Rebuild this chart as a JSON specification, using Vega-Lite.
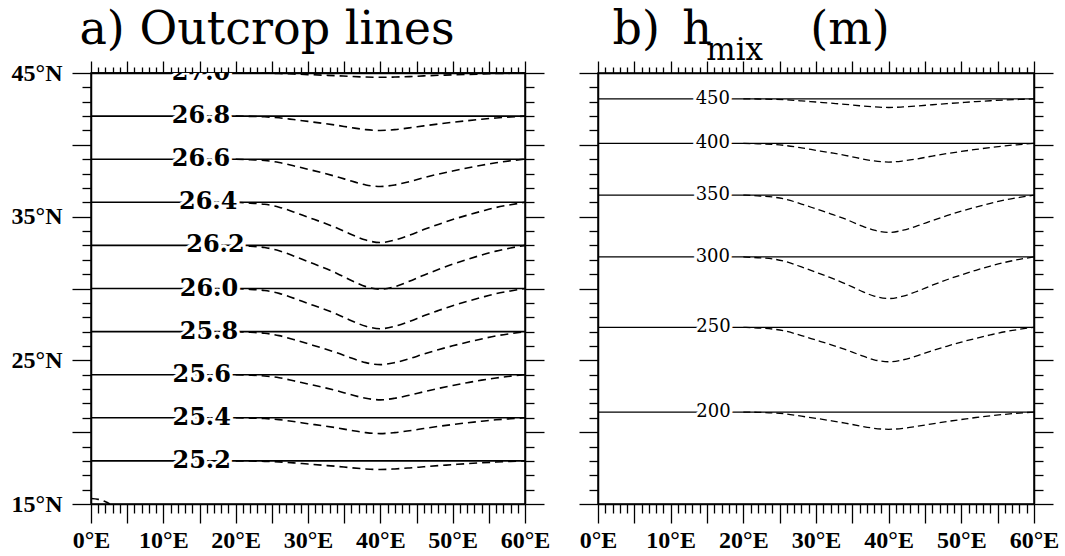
{
"$schema": "https://vega.github.io/schema/vega-lite/v6.json",
"background": "white",
"padding": {"left": 10, "top": 6, "right": 5, "bottom": 2},
"config": {
  "view": {"stroke": "black", "strokeWidth": 1.5},
  "axis": {"domainColor": "black", "domainWidth": 1.5, "tickColor": "black", "tickWidth": 1.3, "labelColor": "black", "labelFont": "Liberation Serif", "labelFontSize": 24, "labelFontWeight": "bold", "grid": false, "labelFlush": false, "labelOverlap": false, "labelBound": false, "zindex": 1}
},
"datasets": {
  "sa": [
    {"c":"27.0","x":0,"y":45},{"c":"27.0","x":60,"y":45},
    {"c":"26.8","x":0,"y":42},{"c":"26.8","x":60,"y":42},
    {"c":"26.6","x":0,"y":39},{"c":"26.6","x":60,"y":39},
    {"c":"26.4","x":0,"y":36},{"c":"26.4","x":60,"y":36},
    {"c":"26.2","x":0,"y":33},{"c":"26.2","x":60,"y":33},
    {"c":"26.0","x":0,"y":30},{"c":"26.0","x":60,"y":30},
    {"c":"25.8","x":0,"y":27},{"c":"25.8","x":60,"y":27},
    {"c":"25.6","x":0,"y":24},{"c":"25.6","x":60,"y":24},
    {"c":"25.4","x":0,"y":21},{"c":"25.4","x":60,"y":21},
    {"c":"25.2","x":0,"y":18},{"c":"25.2","x":60,"y":18}
  ],
  "da": [
    {"c":"27.0","x":20,"y":45},{"c":"27.0","x":22,"y":44.99},{"c":"27.0","x":24,"y":44.99},{"c":"27.0","x":26,"y":44.96},{"c":"27.0","x":28,"y":44.93},{"c":"27.0","x":30,"y":44.89},{"c":"27.0","x":32,"y":44.85},{"c":"27.0","x":34,"y":44.81},{"c":"27.0","x":36,"y":44.76},{"c":"27.0","x":38,"y":44.72},{"c":"27.0","x":40,"y":44.7},{"c":"27.0","x":42,"y":44.72},{"c":"27.0","x":44,"y":44.75},{"c":"27.0","x":46,"y":44.8},{"c":"27.0","x":48,"y":44.84},{"c":"27.0","x":50,"y":44.87},{"c":"27.0","x":52,"y":44.9},{"c":"27.0","x":54,"y":44.93},{"c":"27.0","x":56,"y":44.96},{"c":"27.0","x":58,"y":44.98},{"c":"27.0","x":60,"y":45},
    {"c":"26.8","x":20,"y":42},{"c":"26.8","x":22,"y":41.98},{"c":"26.8","x":24,"y":41.95},{"c":"26.8","x":26,"y":41.88},{"c":"26.8","x":28,"y":41.76},{"c":"26.8","x":30,"y":41.63},{"c":"26.8","x":32,"y":41.5},{"c":"26.8","x":34,"y":41.36},{"c":"26.8","x":36,"y":41.2},{"c":"26.8","x":38,"y":41.06},{"c":"26.8","x":40,"y":41.0},{"c":"26.8","x":42,"y":41.06},{"c":"26.8","x":44,"y":41.18},{"c":"26.8","x":46,"y":41.32},{"c":"26.8","x":48,"y":41.45},{"c":"26.8","x":50,"y":41.57},{"c":"26.8","x":52,"y":41.68},{"c":"26.8","x":54,"y":41.78},{"c":"26.8","x":56,"y":41.87},{"c":"26.8","x":58,"y":41.94},{"c":"26.8","x":60,"y":42},
    {"c":"26.6","x":20,"y":39},{"c":"26.6","x":22,"y":38.96},{"c":"26.6","x":24,"y":38.91},{"c":"26.6","x":26,"y":38.77},{"c":"26.6","x":28,"y":38.54},{"c":"26.6","x":30,"y":38.3},{"c":"26.6","x":32,"y":38.05},{"c":"26.6","x":34,"y":37.78},{"c":"26.6","x":36,"y":37.48},{"c":"26.6","x":38,"y":37.21},{"c":"26.6","x":40,"y":37.1},{"c":"26.6","x":42,"y":37.21},{"c":"26.6","x":44,"y":37.44},{"c":"26.6","x":46,"y":37.71},{"c":"26.6","x":48,"y":37.96},{"c":"26.6","x":50,"y":38.18},{"c":"26.6","x":52,"y":38.39},{"c":"26.6","x":54,"y":38.58},{"c":"26.6","x":56,"y":38.75},{"c":"26.6","x":58,"y":38.89},{"c":"26.6","x":60,"y":39},
    {"c":"26.4","x":20,"y":36},{"c":"26.4","x":22,"y":35.94},{"c":"26.4","x":24,"y":35.86},{"c":"26.4","x":26,"y":35.66},{"c":"26.4","x":28,"y":35.33},{"c":"26.4","x":30,"y":34.96},{"c":"26.4","x":32,"y":34.6},{"c":"26.4","x":34,"y":34.21},{"c":"26.4","x":36,"y":33.76},{"c":"26.4","x":38,"y":33.37},{"c":"26.4","x":40,"y":33.2},{"c":"26.4","x":42,"y":33.37},{"c":"26.4","x":44,"y":33.7},{"c":"26.4","x":46,"y":34.1},{"c":"26.4","x":48,"y":34.46},{"c":"26.4","x":50,"y":34.8},{"c":"26.4","x":52,"y":35.1},{"c":"26.4","x":54,"y":35.38},{"c":"26.4","x":56,"y":35.64},{"c":"26.4","x":58,"y":35.83},{"c":"26.4","x":60,"y":36},
    {"c":"26.2","x":20,"y":33},{"c":"26.2","x":22,"y":32.94},{"c":"26.2","x":24,"y":32.85},{"c":"26.2","x":26,"y":32.63},{"c":"26.2","x":28,"y":32.27},{"c":"26.2","x":30,"y":31.87},{"c":"26.2","x":32,"y":31.48},{"c":"26.2","x":34,"y":31.05},{"c":"26.2","x":36,"y":30.56},{"c":"26.2","x":38,"y":30.13},{"c":"26.2","x":40,"y":29.95},{"c":"26.2","x":42,"y":30.13},{"c":"26.2","x":44,"y":30.5},{"c":"26.2","x":46,"y":30.93},{"c":"26.2","x":48,"y":31.32},{"c":"26.2","x":50,"y":31.69},{"c":"26.2","x":52,"y":32.02},{"c":"26.2","x":54,"y":32.33},{"c":"26.2","x":56,"y":32.6},{"c":"26.2","x":58,"y":32.82},{"c":"26.2","x":60,"y":33},
    {"c":"26.0","x":20,"y":30},{"c":"26.0","x":22,"y":29.94},{"c":"26.0","x":24,"y":29.86},{"c":"26.0","x":26,"y":29.66},{"c":"26.0","x":28,"y":29.33},{"c":"26.0","x":30,"y":28.96},{"c":"26.0","x":32,"y":28.6},{"c":"26.0","x":34,"y":28.21},{"c":"26.0","x":36,"y":27.76},{"c":"26.0","x":38,"y":27.37},{"c":"26.0","x":40,"y":27.2},{"c":"26.0","x":42,"y":27.37},{"c":"26.0","x":44,"y":27.7},{"c":"26.0","x":46,"y":28.1},{"c":"26.0","x":48,"y":28.46},{"c":"26.0","x":50,"y":28.8},{"c":"26.0","x":52,"y":29.1},{"c":"26.0","x":54,"y":29.38},{"c":"26.0","x":56,"y":29.64},{"c":"26.0","x":58,"y":29.83},{"c":"26.0","x":60,"y":30},
    {"c":"25.8","x":20,"y":27},{"c":"25.8","x":22,"y":26.95},{"c":"25.8","x":24,"y":26.89},{"c":"25.8","x":26,"y":26.72},{"c":"25.8","x":28,"y":26.45},{"c":"25.8","x":30,"y":26.15},{"c":"25.8","x":32,"y":25.85},{"c":"25.8","x":34,"y":25.53},{"c":"25.8","x":36,"y":25.16},{"c":"25.8","x":38,"y":24.84},{"c":"25.8","x":40,"y":24.7},{"c":"25.8","x":42,"y":24.84},{"c":"25.8","x":44,"y":25.11},{"c":"25.8","x":46,"y":25.44},{"c":"25.8","x":48,"y":25.74},{"c":"25.8","x":50,"y":26.01},{"c":"25.8","x":52,"y":26.26},{"c":"25.8","x":54,"y":26.49},{"c":"25.8","x":56,"y":26.7},{"c":"25.8","x":58,"y":26.86},{"c":"25.8","x":60,"y":27},
    {"c":"25.6","x":20,"y":24},{"c":"25.6","x":22,"y":23.97},{"c":"25.6","x":24,"y":23.91},{"c":"25.6","x":26,"y":23.79},{"c":"25.6","x":28,"y":23.58},{"c":"25.6","x":30,"y":23.35},{"c":"25.6","x":32,"y":23.13},{"c":"25.6","x":34,"y":22.88},{"c":"25.6","x":36,"y":22.6},{"c":"25.6","x":38,"y":22.36},{"c":"25.6","x":40,"y":22.25},{"c":"25.6","x":42,"y":22.36},{"c":"25.6","x":44,"y":22.57},{"c":"25.6","x":46,"y":22.81},{"c":"25.6","x":48,"y":23.04},{"c":"25.6","x":50,"y":23.25},{"c":"25.6","x":52,"y":23.44},{"c":"25.6","x":54,"y":23.62},{"c":"25.6","x":56,"y":23.77},{"c":"25.6","x":58,"y":23.9},{"c":"25.6","x":60,"y":24},
    {"c":"25.4","x":20,"y":21},{"c":"25.4","x":22,"y":20.98},{"c":"25.4","x":24,"y":20.95},{"c":"25.4","x":26,"y":20.87},{"c":"25.4","x":28,"y":20.74},{"c":"25.4","x":30,"y":20.59},{"c":"25.4","x":32,"y":20.45},{"c":"25.4","x":34,"y":20.3},{"c":"25.4","x":36,"y":20.12},{"c":"25.4","x":38,"y":19.97},{"c":"25.4","x":40,"y":19.9},{"c":"25.4","x":42,"y":19.97},{"c":"25.4","x":44,"y":20.1},{"c":"25.4","x":46,"y":20.25},{"c":"25.4","x":48,"y":20.4},{"c":"25.4","x":50,"y":20.53},{"c":"25.4","x":52,"y":20.65},{"c":"25.4","x":54,"y":20.76},{"c":"25.4","x":56,"y":20.86},{"c":"25.4","x":58,"y":20.93},{"c":"25.4","x":60,"y":21},
    {"c":"25.2","x":20,"y":18},{"c":"25.2","x":22,"y":17.99},{"c":"25.2","x":24,"y":17.97},{"c":"25.2","x":26,"y":17.93},{"c":"25.2","x":28,"y":17.86},{"c":"25.2","x":30,"y":17.78},{"c":"25.2","x":32,"y":17.7},{"c":"25.2","x":34,"y":17.62},{"c":"25.2","x":36,"y":17.52},{"c":"25.2","x":38,"y":17.44},{"c":"25.2","x":40,"y":17.4},{"c":"25.2","x":42,"y":17.44},{"c":"25.2","x":44,"y":17.51},{"c":"25.2","x":46,"y":17.59},{"c":"25.2","x":48,"y":17.67},{"c":"25.2","x":50,"y":17.74},{"c":"25.2","x":52,"y":17.81},{"c":"25.2","x":54,"y":17.87},{"c":"25.2","x":56,"y":17.92},{"c":"25.2","x":58,"y":17.96},{"c":"25.2","x":60,"y":18},
    {"c":"25.0","x":0,"y":15.38},{"c":"25.0","x":1,"y":15.32},{"c":"25.0","x":2,"y":15.15},{"c":"25.0","x":2.6,"y":15.0}
  ],
  "la": [
    {"t":"27.0","x":15.2,"y":45},{"t":"26.8","x":15.2,"y":42},{"t":"26.6","x":15.2,"y":39},{"t":"26.4","x":16.2,"y":36},{"t":"26.2","x":17.2,"y":33},
    {"t":"26.0","x":16.3,"y":30},{"t":"25.8","x":16.3,"y":27},{"t":"25.6","x":15.3,"y":24},{"t":"25.4","x":15.3,"y":21},{"t":"25.2","x":15.3,"y":18}
  ],
  "sb": [
    {"c":"450","x":0,"y":43.2},{"c":"450","x":60,"y":43.2},
    {"c":"400","x":0,"y":40.1},{"c":"400","x":60,"y":40.1},
    {"c":"350","x":0,"y":36.5},{"c":"350","x":60,"y":36.5},
    {"c":"300","x":0,"y":32.2},{"c":"300","x":60,"y":32.2},
    {"c":"250","x":0,"y":27.3},{"c":"250","x":60,"y":27.3},
    {"c":"200","x":0,"y":21.4},{"c":"200","x":60,"y":21.4}
  ],
  "db": [
    {"c":"450","x":20,"y":43.2},{"c":"450","x":22,"y":43.19},{"c":"450","x":24,"y":43.17},{"c":"450","x":26,"y":43.13},{"c":"450","x":28,"y":43.06},{"c":"450","x":30,"y":42.98},{"c":"450","x":32,"y":42.9},{"c":"450","x":34,"y":42.82},{"c":"450","x":36,"y":42.72},{"c":"450","x":38,"y":42.64},{"c":"450","x":40,"y":42.6},{"c":"450","x":42,"y":42.64},{"c":"450","x":44,"y":42.71},{"c":"450","x":46,"y":42.79},{"c":"450","x":48,"y":42.87},{"c":"450","x":50,"y":42.94},{"c":"450","x":52,"y":43.01},{"c":"450","x":54,"y":43.07},{"c":"450","x":56,"y":43.12},{"c":"450","x":58,"y":43.16},{"c":"450","x":60,"y":43.2},
    {"c":"400","x":20,"y":40.1},{"c":"400","x":22,"y":40.07},{"c":"400","x":24,"y":40.04},{"c":"400","x":26,"y":39.94},{"c":"400","x":28,"y":39.79},{"c":"400","x":30,"y":39.62},{"c":"400","x":32,"y":39.45},{"c":"400","x":34,"y":39.27},{"c":"400","x":36,"y":39.06},{"c":"400","x":38,"y":38.88},{"c":"400","x":40,"y":38.8},{"c":"400","x":42,"y":38.88},{"c":"400","x":44,"y":39.03},{"c":"400","x":46,"y":39.22},{"c":"400","x":48,"y":39.39},{"c":"400","x":50,"y":39.54},{"c":"400","x":52,"y":39.68},{"c":"400","x":54,"y":39.81},{"c":"400","x":56,"y":39.93},{"c":"400","x":58,"y":40.02},{"c":"400","x":60,"y":40.1},
    {"c":"350","x":20,"y":36.5},{"c":"350","x":22,"y":36.45},{"c":"350","x":24,"y":36.37},{"c":"350","x":26,"y":36.19},{"c":"350","x":28,"y":35.88},{"c":"350","x":30,"y":35.54},{"c":"350","x":32,"y":35.2},{"c":"350","x":34,"y":34.84},{"c":"350","x":36,"y":34.42},{"c":"350","x":38,"y":34.06},{"c":"350","x":40,"y":33.9},{"c":"350","x":42,"y":34.06},{"c":"350","x":44,"y":34.37},{"c":"350","x":46,"y":34.73},{"c":"350","x":48,"y":35.07},{"c":"350","x":50,"y":35.38},{"c":"350","x":52,"y":35.67},{"c":"350","x":54,"y":35.93},{"c":"350","x":56,"y":36.16},{"c":"350","x":58,"y":36.34},{"c":"350","x":60,"y":36.5},
    {"c":"300","x":20,"y":32.2},{"c":"300","x":22,"y":32.14},{"c":"300","x":24,"y":32.06},{"c":"300","x":26,"y":31.85},{"c":"300","x":28,"y":31.5},{"c":"300","x":30,"y":31.13},{"c":"300","x":32,"y":30.75},{"c":"300","x":34,"y":30.34},{"c":"300","x":36,"y":29.88},{"c":"300","x":38,"y":29.47},{"c":"300","x":40,"y":29.3},{"c":"300","x":42,"y":29.47},{"c":"300","x":44,"y":29.82},{"c":"300","x":46,"y":30.23},{"c":"300","x":48,"y":30.61},{"c":"300","x":50,"y":30.95},{"c":"300","x":52,"y":31.27},{"c":"300","x":54,"y":31.56},{"c":"300","x":56,"y":31.82},{"c":"300","x":58,"y":32.03},{"c":"300","x":60,"y":32.2},
    {"c":"250","x":20,"y":27.3},{"c":"250","x":22,"y":27.25},{"c":"250","x":24,"y":27.18},{"c":"250","x":26,"y":27.01},{"c":"250","x":28,"y":26.72},{"c":"250","x":30,"y":26.41},{"c":"250","x":32,"y":26.1},{"c":"250","x":34,"y":25.76},{"c":"250","x":36,"y":25.38},{"c":"250","x":38,"y":25.04},{"c":"250","x":40,"y":24.9},{"c":"250","x":42,"y":25.04},{"c":"250","x":44,"y":25.33},{"c":"250","x":46,"y":25.67},{"c":"250","x":48,"y":25.98},{"c":"250","x":50,"y":26.27},{"c":"250","x":52,"y":26.53},{"c":"250","x":54,"y":26.77},{"c":"250","x":56,"y":26.99},{"c":"250","x":58,"y":27.16},{"c":"250","x":60,"y":27.3},
    {"c":"200","x":20,"y":21.4},{"c":"200","x":22,"y":21.38},{"c":"200","x":24,"y":21.34},{"c":"200","x":26,"y":21.26},{"c":"200","x":28,"y":21.11},{"c":"200","x":30,"y":20.96},{"c":"200","x":32,"y":20.8},{"c":"200","x":34,"y":20.63},{"c":"200","x":36,"y":20.44},{"c":"200","x":38,"y":20.27},{"c":"200","x":40,"y":20.2},{"c":"200","x":42,"y":20.27},{"c":"200","x":44,"y":20.42},{"c":"200","x":46,"y":20.58},{"c":"200","x":48,"y":20.74},{"c":"200","x":50,"y":20.88},{"c":"200","x":52,"y":21.02},{"c":"200","x":54,"y":21.14},{"c":"200","x":56,"y":21.24},{"c":"200","x":58,"y":21.33},{"c":"200","x":60,"y":21.4}
  ],
  "lb": [
    {"t":"450","x":15.8,"y":43.2},{"t":"400","x":15.8,"y":40.1},{"t":"350","x":15.8,"y":36.5},
    {"t":"300","x":15.8,"y":32.2},{"t":"250","x":15.9,"y":27.3},{"t":"200","x":15.9,"y":21.4}
  ]
},
"hconcat": [
  {
    "width": 434, "height": 431,
    "layer": [
      {"data": {"name": "sa"}, "mark": {"type": "line", "color": "black", "strokeWidth": 1.6},
       "encoding": {
         "x": {"field": "x", "type": "quantitative", "scale": {"domain": [0, 60], "nice": false, "zero": false},
               "axis": {"orient": "bottom", "title": null, "values": [0,1,2,3,4,5,6,7,8,9,10,11,12,13,14,15,16,17,18,19,20,21,22,23,24,25,26,27,28,29,30,31,32,33,34,35,36,37,38,39,40,41,42,43,44,45,46,47,48,49,50,51,52,53,54,55,56,57,58,59,60],
                        "labelExpr": "datum.value % 10 === 0 ? datum.value + '°E' : ''", "labelPadding": 5,
                        "tickSize": {"condition": {"test": "datum.value % 5 === 0", "value": 19}, "value": 9}}},
         "y": {"field": "y", "type": "quantitative", "scale": {"domain": [15, 45], "nice": false, "zero": false},
               "axis": {"orient": "left", "title": null, "values": [15,16,17,18,19,20,21,22,23,24,25,26,27,28,29,30,31,32,33,34,35,36,37,38,39,40,41,42,43,44,45],
                        "labelExpr": "datum.value % 10 === 5 ? datum.value + '°N' : ''", "labelPadding": 10,
                        "tickSize": {"condition": {"test": "datum.value % 5 === 0", "value": 19}, "value": 9}}},
         "detail": {"field": "c"}}},
      {"data": {"name": "da"}, "mark": {"type": "line", "color": "black", "strokeWidth": 1.6, "strokeDash": [8, 5], "interpolate": "monotone"},
       "encoding": {
         "x": {"field": "x", "type": "quantitative",
               "axis": {"orient": "top", "title": null, "labels": false, "values": [0,1,2,3,4,5,6,7,8,9,10,11,12,13,14,15,16,17,18,19,20,21,22,23,24,25,26,27,28,29,30,31,32,33,34,35,36,37,38,39,40,41,42,43,44,45,46,47,48,49,50,51,52,53,54,55,56,57,58,59,60],
                        "tickSize": {"condition": {"test": "datum.value % 5 === 0", "value": 12}, "value": 6}}},
         "y": {"field": "y", "type": "quantitative",
               "axis": {"orient": "right", "title": null, "labels": false, "values": [15,16,17,18,19,20,21,22,23,24,25,26,27,28,29,30,31,32,33,34,35,36,37,38,39,40,41,42,43,44,45],
                        "tickSize": {"condition": {"test": "datum.value % 5 === 0", "value": 19}, "value": 9}}},
         "detail": {"field": "c"}}},
      {"data": {"name": "la"}, "mark": {"type": "text", "clip": true, "font": "DejaVu Serif", "fontWeight": "bold", "fontSize": 24, "align": "center", "baseline": "middle", "fill": "white", "stroke": "white", "strokeWidth": 6},
       "encoding": {"x": {"field": "x", "type": "quantitative", "axis": null}, "y": {"field": "y", "type": "quantitative", "axis": null}, "text": {"field": "t"}}},
      {"data": {"name": "la"}, "mark": {"type": "text", "clip": true, "font": "DejaVu Serif", "fontWeight": "bold", "fontSize": 24, "align": "center", "baseline": "middle", "fill": "black"},
       "encoding": {"x": {"field": "x", "type": "quantitative", "axis": null}, "y": {"field": "y", "type": "quantitative", "axis": null}, "text": {"field": "t"}}},
      {"data": {"values": [{}]}, "mark": {"type": "text", "font": "DejaVu Serif", "fontSize": 46, "align": "left", "baseline": "alphabetic", "fill": "black"},
       "encoding": {"x": {"datum": -1.6, "type": "quantitative", "axis": null}, "y": {"datum": 47.0, "type": "quantitative", "axis": null}, "text": {"value": "a) Outcrop lines"}}}
    ],
    "resolve": {"axis": {"x": "independent", "y": "independent"}}
  },
  {
    "width": 436, "height": 431,
    "layer": [
      {"data": {"name": "sb"}, "mark": {"type": "line", "color": "black", "strokeWidth": 1.3},
       "encoding": {
         "x": {"field": "x", "type": "quantitative", "scale": {"domain": [0, 60], "nice": false, "zero": false},
               "axis": {"orient": "bottom", "title": null, "values": [0,1,2,3,4,5,6,7,8,9,10,11,12,13,14,15,16,17,18,19,20,21,22,23,24,25,26,27,28,29,30,31,32,33,34,35,36,37,38,39,40,41,42,43,44,45,46,47,48,49,50,51,52,53,54,55,56,57,58,59,60],
                        "labelExpr": "datum.value % 10 === 0 ? datum.value + '°E' : ''", "labelPadding": 5,
                        "tickSize": {"condition": {"test": "datum.value % 5 === 0", "value": 19}, "value": 9}}},
         "y": {"field": "y", "type": "quantitative", "scale": {"domain": [15, 45], "nice": false, "zero": false},
               "axis": {"orient": "left", "title": null, "labels": false, "values": [15,16,17,18,19,20,21,22,23,24,25,26,27,28,29,30,31,32,33,34,35,36,37,38,39,40,41,42,43,44,45],
                        "tickSize": {"condition": {"test": "datum.value % 5 === 0", "value": 19}, "value": 9}}},
         "detail": {"field": "c"}}},
      {"data": {"name": "db"}, "mark": {"type": "line", "color": "black", "strokeWidth": 1.3, "strokeDash": [7, 4], "interpolate": "monotone"},
       "encoding": {
         "x": {"field": "x", "type": "quantitative",
               "axis": {"orient": "top", "title": null, "labels": false, "values": [0,1,2,3,4,5,6,7,8,9,10,11,12,13,14,15,16,17,18,19,20,21,22,23,24,25,26,27,28,29,30,31,32,33,34,35,36,37,38,39,40,41,42,43,44,45,46,47,48,49,50,51,52,53,54,55,56,57,58,59,60],
                        "tickSize": {"condition": {"test": "datum.value % 5 === 0", "value": 12}, "value": 6}}},
         "y": {"field": "y", "type": "quantitative",
               "axis": {"orient": "right", "title": null, "labels": false, "values": [15,16,17,18,19,20,21,22,23,24,25,26,27,28,29,30,31,32,33,34,35,36,37,38,39,40,41,42,43,44,45],
                        "tickSize": {"condition": {"test": "datum.value % 5 === 0", "value": 19}, "value": 9}}},
         "detail": {"field": "c"}}},
      {"data": {"name": "lb"}, "mark": {"type": "text", "font": "DejaVu Serif", "fontSize": 18, "align": "center", "baseline": "middle", "fill": "white", "stroke": "white", "strokeWidth": 6},
       "encoding": {"x": {"field": "x", "type": "quantitative", "axis": null}, "y": {"field": "y", "type": "quantitative", "axis": null}, "text": {"field": "t"}}},
      {"data": {"name": "lb"}, "mark": {"type": "text", "font": "DejaVu Serif", "fontSize": 18, "align": "center", "baseline": "middle", "fill": "black"},
       "encoding": {"x": {"field": "x", "type": "quantitative", "axis": null}, "y": {"field": "y", "type": "quantitative", "axis": null}, "text": {"field": "t"}}},
      {"data": {"values": [{}]}, "mark": {"type": "text", "font": "DejaVu Serif", "fontSize": 46, "align": "left", "baseline": "alphabetic", "fill": "black"},
       "encoding": {"x": {"datum": 2.0, "type": "quantitative", "axis": null}, "y": {"datum": 47.0, "type": "quantitative", "axis": null}, "text": {"value": "b)"}}},
      {"data": {"values": [{}]}, "mark": {"type": "text", "font": "DejaVu Serif", "fontSize": 46, "align": "left", "baseline": "alphabetic", "fill": "black"},
       "encoding": {"x": {"datum": 11.6, "type": "quantitative", "axis": null}, "y": {"datum": 47.0, "type": "quantitative", "axis": null}, "text": {"value": "h"}}},
      {"data": {"values": [{}]}, "mark": {"type": "text", "font": "DejaVu Serif", "fontSize": 31, "align": "left", "baseline": "alphabetic", "fill": "black"},
       "encoding": {"x": {"datum": 14.9, "type": "quantitative", "axis": null}, "y": {"datum": 45.9, "type": "quantitative", "axis": null}, "text": {"value": "mix"}}},
      {"data": {"values": [{}]}, "mark": {"type": "text", "font": "DejaVu Serif", "fontSize": 46, "align": "left", "baseline": "alphabetic", "fill": "black"},
       "encoding": {"x": {"datum": 29.2, "type": "quantitative", "axis": null}, "y": {"datum": 47.0, "type": "quantitative", "axis": null}, "text": {"value": "(m)"}}}
    ],
    "resolve": {"axis": {"x": "independent", "y": "independent"}}
  }
],
"spacing": 73,
"bounds": "flush"
}
